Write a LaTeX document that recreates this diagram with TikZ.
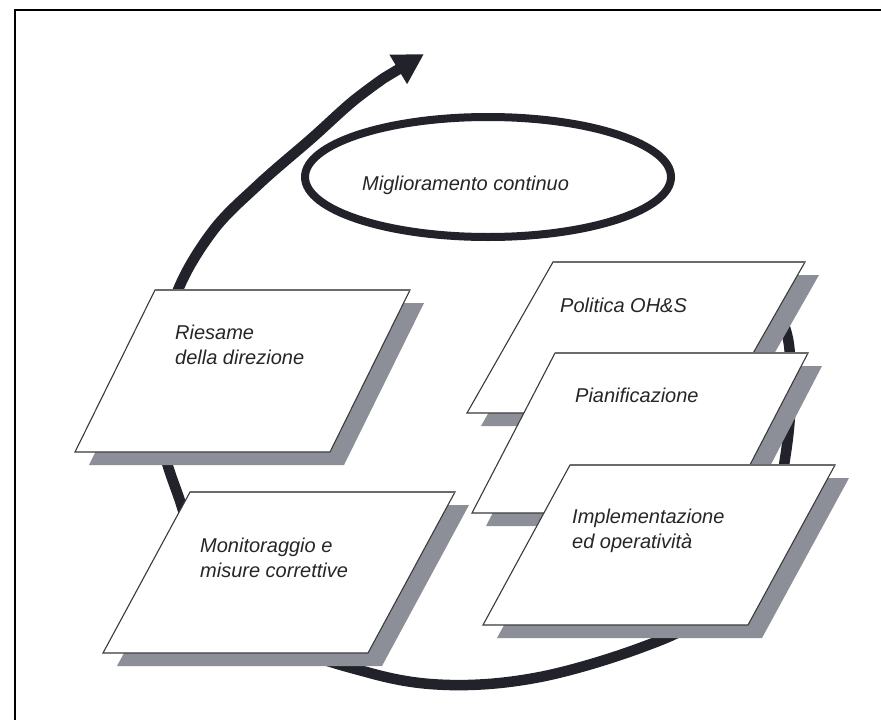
\documentclass[tikz,border=0pt]{standalone}
\usepackage{fontspec}
\setmainfont{Liberation Sans}
\usetikzlibrary{arrows.meta}
\definecolor{ink}{HTML}{22222A}
\definecolor{shade}{HTML}{8C8F98}
\definecolor{rim}{HTML}{3A3A3A}
\tikzset{
  loopline/.style={draw=ink, line width=10.5pt, line cap=round, line join=round},
  ringline/.style={draw=ink, line width=8pt},
  cardshadow/.style={fill=shade},
  cardface/.style={fill=white, draw=rim, line width=1.1pt, line join=miter},
  cardtop/.style={draw=rim!75, line width=2pt},
  cardtext/.style={font=\fontsize{20}{25}\selectfont\itshape, inner sep=0pt,
                   align=left, text=black!85, anchor=west},
}
% one sheet: top-left x, top y, width, slant, height
\newcommand{\sheet}[5]{%
  \fill[cardshadow] (#1+14,#2+13) -- ++(#3,0) -- ++(-#4,#5) -- ++(-#3,0) -- cycle;
  \draw[cardface] (#1,#2) -- ++(#3,0) -- ++(-#4,#5) -- ++(-#3,0) -- cycle;
  \draw[cardtop] (#1,#2) -- ++(#3,0);
}
\begin{document}
\begin{tikzpicture}[x=1pt,y=-1pt]
  \useasboundingbox[fill=white] (0,0) rectangle (881,720);
  % frame
  \draw[line width=2pt] (15,720) -- (15,10) -- (881,10);

  % continual improvement ring
  \draw[ringline] (488,177) ellipse [x radius=183pt, y radius=60pt];
  \node[cardtext] (migl) at (362,185) {Miglioramento continuo};

  % the big cycle arrow, ending in a short straight run under the head
  \coordinate (loopend) at (424,54);
  \draw[loopline, -{Triangle[length=30pt,width=32pt]}]
    plot[smooth, tension=0.6] coordinates {
      (768,290) (789,345) (787,445) (760,555) (702,617) (640,648)
      (540,677) (450,685) (370,673) (275,637) (205,560) (178,495)
      (162,440) (160,370) (176,295) (212,232) (258,185) (312,138)
      (352,102) (384,78)}
    -- (loopend);

  % sheets
  \sheet{155}{290}{255}{80}{162}
  \node[cardtext] (riesame) at (175,345) {Riesame\\della direzione};

  \sheet{190}{492}{265}{87}{161}
  \node[cardtext] (monit) at (200,558) {Monitoraggio e\\misure correttive};

  \sheet{553}{262}{252}{86}{151}
  \node[cardtext] (politica) at (560,305) {Politica OH\&S};

  \sheet{555}{353}{253}{83}{160}
  \node[cardtext] (pianif) at (575,395) {Pianificazione};

  \sheet{570}{465}{265}{87}{160}
  \node[cardtext] (implem) at (572,531) {Implementazione\\ed operatività};
\end{tikzpicture}
\end{document}
